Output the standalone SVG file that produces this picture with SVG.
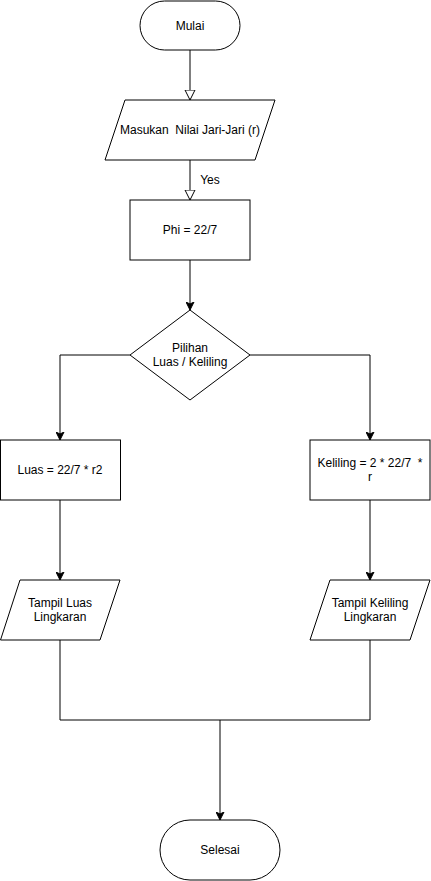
<svg xmlns="http://www.w3.org/2000/svg" width="431" height="881" viewBox="0 0 431 881">
<defs>
<marker id="hollow" markerWidth="12" markerHeight="12" refX="10" refY="5" orient="auto" markerUnits="userSpaceOnUse" viewBox="0 0 12 10">
<path d="M0,0 L10,5 L0,10 Z" fill="#ffffff" stroke="#000000" stroke-width="1"/>
</marker>
<marker id="solid" markerWidth="9" markerHeight="9" refX="8" refY="4" orient="auto" markerUnits="userSpaceOnUse" viewBox="0 0 9 8">
<path d="M0,0 L8,4 L0,8 L2,4 Z" fill="#000000" stroke="#000000" stroke-width="1"/>
</marker>
</defs>
<style>
.shape{fill:#ffffff;stroke:#000000;stroke-width:1}
.edge{fill:none;stroke:#000000;stroke-width:1}
text{font-family:"Liberation Sans",Arial,Helvetica,sans-serif;font-size:12px;fill:#000000;text-anchor:middle;dominant-baseline:central}
</style>
<rect width="431" height="881" fill="#ffffff"/>
<g id="connectors">
<path class="edge" d="M190,50 L190,100" marker-end="url(#hollow)"/>
<path class="edge" d="M190,160 L190,200" marker-end="url(#hollow)"/>
<text x="210" y="180">Yes</text>
<path class="edge" d="M190,260 L190,310" marker-end="url(#solid)"/>
<path class="edge" d="M130,355 L60,355 L60,440" marker-end="url(#solid)"/>
<path class="edge" d="M250,355 L370,355 L370,440" marker-end="url(#solid)"/>
<path class="edge" d="M60,500 L60,580" marker-end="url(#solid)"/>
<path class="edge" d="M370,500 L370,580" marker-end="url(#solid)"/>
<path class="edge" d="M60,640 L60,720 L370,720 L370,640"/>
<path class="edge" d="M220,720 L220,820" marker-end="url(#solid)"/>
</g>
<g id="mulai">
<rect class="shape" x="140" y="1" width="100" height="49" rx="24.5"/>
<text x="190" y="26">Mulai</text>
</g>
<g id="masukan">
<polygon class="shape" points="125,100 275,100 255,160 105,160"/>
<text x="190" y="130" xml:space="preserve">Masukan  Nilai Jari-Jari (r)</text>
</g>
<g id="phi">
<rect class="shape" x="130" y="200" width="120" height="60"/>
<text x="190" y="230">Phi = 22/7</text>
</g>
<g id="pilihan">
<polygon class="shape" points="190,310 250,355 190,400 130,355"/>
<text x="190" y="348">Pilihan</text>
<text x="190" y="362">Luas / Keliling</text>
</g>
<g id="luas">
<rect class="shape" x="0.5" y="440" width="120" height="60"/>
<text x="60" y="470">Luas = 22/7 * r2</text>
</g>
<g id="keliling">
<rect class="shape" x="310" y="440" width="120" height="60"/>
<text x="370" y="463" xml:space="preserve">Keliling = 2 * 22/7  *</text>
<text x="370" y="477">r</text>
</g>
<g id="tampil-luas">
<polygon class="shape" points="20,580 120,580 100,640 0.5,640"/>
<text x="60" y="603">Tampil Luas</text>
<text x="60" y="617">Lingkaran</text>
</g>
<g id="tampil-keliling">
<polygon class="shape" points="330,580 430,580 410,640 310,640"/>
<text x="370" y="603">Tampil Keliling</text>
<text x="370" y="617">Lingkaran</text>
</g>
<g id="selesai">
<rect class="shape" x="160" y="820" width="120" height="60" rx="30"/>
<text x="220" y="850">Selesai</text>
</g>
</svg>
